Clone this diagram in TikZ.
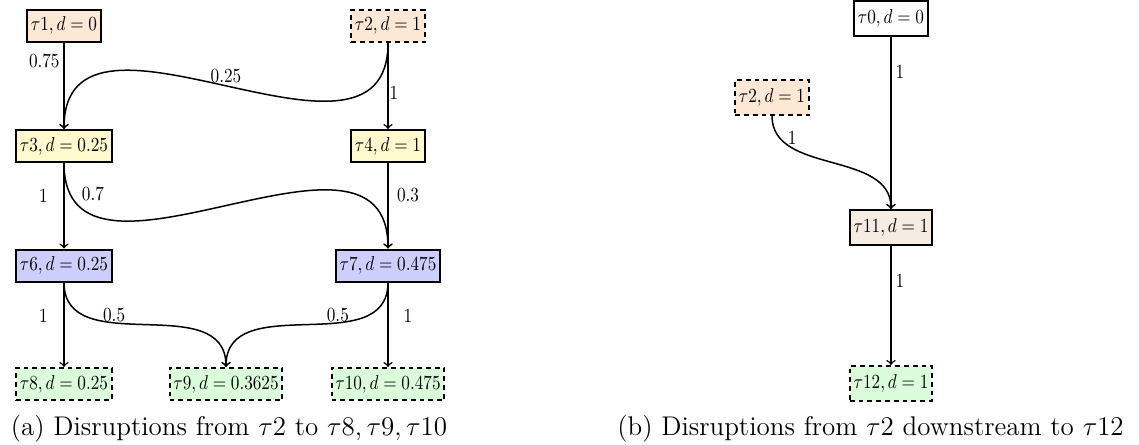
\RequirePackage{fix-cm}
\documentclass[tikz,border=0pt]{standalone}
\usepackage{graphicx}

% fills of the task boxes
\definecolor{peach}{RGB}{253,232,214}
\definecolor{cream}{RGB}{255,249,206}
\definecolor{lavender}{RGB}{206,206,252}
\definecolor{mint}{RGB}{219,252,219}
\definecolor{sand}{RGB}{245,236,226}

% text inside the graphs, set at 10pt and scaled down
\newcommand\gtxt[1]{\scalebox{0.86}[1.0]{#1}}

\begin{document}
\begin{tikzpicture}[x=0.5pt,y=-0.5pt,
  task/.style={draw, line width=1pt, inner xsep=1.9pt, inner ysep=0pt,
    minimum height=16pt, font=\fontsize{10}{12}\selectfont},
  taskb/.style={task, minimum height=17.5pt},
  sink/.style={dash pattern=on 2.4pt off 2pt},
  conn/.style={->, line width=0.75pt},
  lbl/.style={font=\fontsize{10}{12}\selectfont, inner sep=0pt, anchor=center},
  captext/.style={anchor=base, inner sep=0pt, font=\fontsize{13.5}{16}\selectfont}]
\useasboundingbox (0,0) rectangle (1139,444);

% ---- (a) propagation from tau2 ----
\node[task, fill=peach] (t1) at (64,26) {\gtxt{$\tau1, d=0$}};
\node[task, sink, fill=peach] (t2) at (388,26) {\gtxt{$\tau2, d=1$}};
\node[task, fill=cream] (t3) at (64,146) {\gtxt{$\tau3, d=0.25$}};
\node[task, fill=cream] (t4) at (388,146) {\gtxt{$\tau4, d=1$}};
\node[task, fill=lavender] (t6) at (64,265.5) {\gtxt{$\tau6, d=0.25$}};
\node[task, fill=lavender] (t7) at (388,265.5) {\gtxt{$\tau7, d=0.475$}};
\node[task, sink, fill=mint] (t8) at (64,384) {\gtxt{$\tau8, d=0.25$}};
\node[task, sink, fill=mint] (t9) at (226,384) {\gtxt{$\tau9, d=0.3625$}};
\node[task, sink, fill=mint] (t10) at (388,384) {\gtxt{$\tau10, d=0.475$}};

\draw[conn] (t1) -- node[lbl, pos=0.21, xshift=-9.85pt] {\gtxt{0.75}} (t3);
\draw[conn] (t2.south) to[out=-90, in=90, looseness=1.2]
  node[lbl, pos=0.5, yshift=5pt] {\gtxt{0.25}} (t3.north);
\draw[conn] (t2) -- node[lbl, pos=0.58, xshift=3pt] {\gtxt{1}} (t4);
\draw[conn] (t3) -- node[lbl, pos=0.38, xshift=-10.25pt] {\gtxt{1}} (t6);
\draw[conn] (t3.south) to[out=-90, in=90, looseness=1.2]
  node[lbl, pos=0.08, xshift=11.5pt] {\gtxt{0.7}} (t7.north);
\draw[conn] (t4) -- node[lbl, pos=0.38, xshift=10pt] {\gtxt{0.3}} (t7);
\draw[conn] (t6) -- node[lbl, pos=0.39, xshift=-10.25pt] {\gtxt{1}} (t8);
\draw[conn] (t6.south) to[out=-90, in=90, looseness=1.1]
  node[lbl, pos=0.37, yshift=4pt] {\gtxt{0.5}} (t9.north);
\draw[conn] (t7.south) to[out=-90, in=90, looseness=1.1]
  node[lbl, pos=0.37, yshift=4pt] {\gtxt{0.5}} (t9.north);
\draw[conn] (t7) -- node[lbl, pos=0.39, xshift=10pt] {\gtxt{1}} (t10);

\node[captext] (capa) at (229,435) {(a) Disruptions from $\tau2$ to $\tau8, \tau9, \tau10$};

% ---- (b) downstream chain ----
\node[taskb, fill=white] (t0b) at (891,19) {\gtxt{$\tau0, d=0$}};
\node[taskb, sink, fill=peach] (t2b) at (772,97.5) {\gtxt{$\tau2, d=1$}};
\node[taskb, fill=sand] (t11) at (891,227.5) {\gtxt{$\tau11, d=1$}};
\node[taskb, sink, fill=mint] (t12) at (891,383.5) {\gtxt{$\tau12, d=1$}};

\draw[conn] (t0b) -- node[lbl, pos=0.2, xshift=4.5pt] {\gtxt{1}} (t11);
\draw[conn] (t2b.south) to[out=-90, in=90]
  node[lbl, pos=0.15, xshift=6.5pt] {\gtxt{1}} (t11.north);
\draw[conn] (t11) -- node[lbl, pos=0.29, xshift=4.5pt] {\gtxt{1}} (t12);

\node[captext] (capb) at (870.5,435) {(b) Disruptions from $\tau2$ downstream to $\tau12$};
\end{tikzpicture}
\end{document}
